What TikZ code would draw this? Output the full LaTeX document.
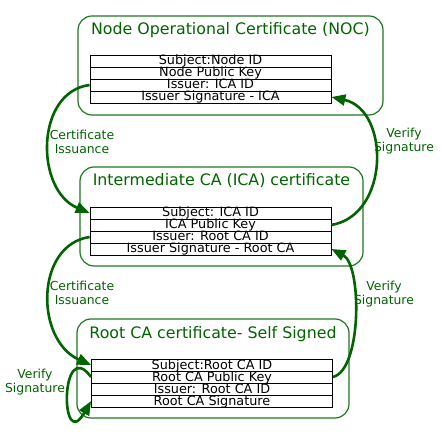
\documentclass[tikz,border=0pt]{standalone}
\usepackage{fontspec}
\setmainfont{DejaVu Sans}
\usepackage{xcolor}
\usepackage{tikz}
\usetikzlibrary{arrows, arrows.meta}
\usetikzlibrary{positioning}
\definecolor{certgreen}{RGB}{0,100,0}
\definecolor{clustergreen}{RGB}{30,120,30}

\begin{document}
\begin{tikzpicture}[x=1pt, y=-1pt,
		field/.style={draw, fill=white, line width=0.8pt, minimum width=241pt, minimum height=12pt, inner sep=0pt, text height=9.5pt, text depth=1.5pt, font=\fontsize{12.8}{14}\selectfont},
		cluster/.style={draw=clustergreen, line width=1.2pt, rounded corners=14pt},
		title/.style={anchor=base, text=certgreen, font=\fontsize{15.8}{18}\selectfont},
		link/.style={draw=certgreen, line width=2.6pt, -{Triangle[length=14pt, width=11pt]}},
		linklabel/.style={text=certgreen, align=center, font=\fontsize{12.4}{14}\selectfont}]
			\useasboundingbox (0,0) rectangle (441,435);
			\draw[cluster] (78,16) rectangle (383,115);
			\draw[cluster] (80,167) rectangle (363,266);
			\draw[cluster] (77,319) rectangle (349,418);
			\node[title] (noctitle) at (230.5,35) {Node Operational Certificate (NOC)};
			\node[title] (icatitle) at (221.5,186) {Intermediate CA (ICA) certificate};
			\node[title] (roottitle) at (213,338) {Root CA certificate- Self Signed};
			\foreach \name/\txt [count=\i] in {nocsubj/Subject:Node ID, nockey/Node Public Key, nociss/Issuer: ICA ID, nocsig/Issuer Signature - ICA}
			{
				\node[field] (\name) at (210.5, 49+12*\i) {\txt};
			}
			\foreach \name/\txt [count=\i] in {icasubj/Subject: ICA ID, icakey/ICA Public Key, icaiss/Issuer: Root CA ID, icasig/Issuer Signature - Root CA}
			{
				\node[field] (\name) at (210.5, 201+12*\i) {\txt};
			}
			\foreach \name/\txt [count=\i] in {rootsubj/Subject:Root CA ID, rootkey/Root CA Public Key, rootiss/Issuer: Root CA ID, rootsig/Root CA Signature}
			{
				\node[field] (\name) at (212, 353+12*\i) {\txt};
			}
			\draw[link] (nociss.west) .. controls (35,92) and (35,190) .. (icasubj.west);
			\draw[link] (icakey.east) .. controls (390,215) and (390,110) .. (nocsig.east);
			\draw[link] (icaiss.west) .. controls (35,245) and (35,340) .. (rootsubj.west);
			\draw[link] (rootkey.east) .. controls (362,370) and (362,265) .. (icasig.east);
			\draw[link] (rootkey.west) .. controls (60,335) and (60,455) .. (rootsig.west);
			\node[linklabel] (issue1) at (82,142) {Certificate\\Issuance};
			\node[linklabel] (verify1) at (404,141) {Verify\\Signature};
			\node[linklabel] (issue2) at (82,293) {Certificate\\Issuance};
			\node[linklabel] (verify2) at (384,294) {Verify\\Signature};
			\node[linklabel] (verify3) at (35,382) {Verify\\Signature};
		\end{tikzpicture}
\end{document}
